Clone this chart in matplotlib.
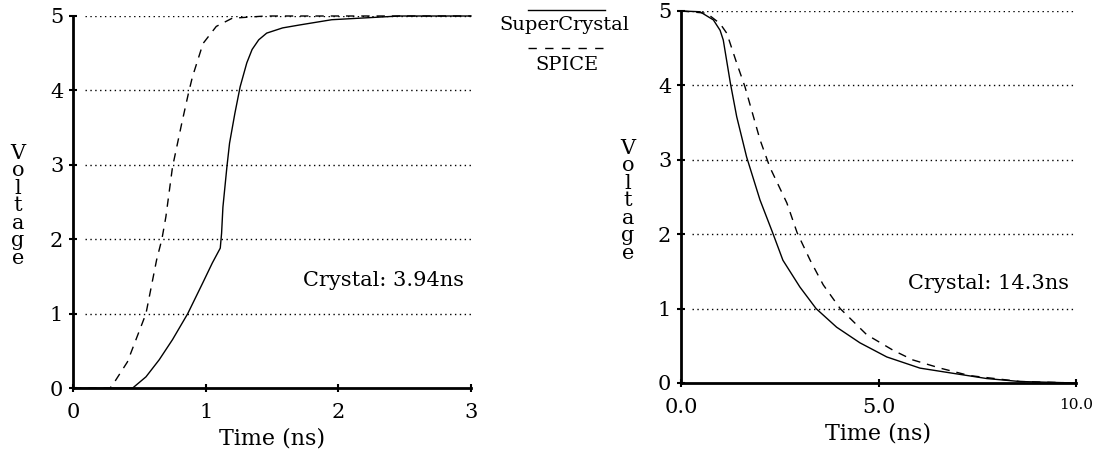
import matplotlib.pyplot as plt
from matplotlib.lines import Line2D

# rising edge (left panel), time in ns
rise_t_sc = [0.0, 0.45, 0.55, 0.65, 0.75, 0.865, 0.98, 1.05, 1.11, 1.12, 1.13, 1.16, 1.18,
             1.22, 1.26, 1.31, 1.35, 1.40, 1.46, 1.58, 1.71, 1.95, 2.46, 3.0]
rise_v_sc = [0.0, 0.0, 0.15, 0.38, 0.65, 1.0, 1.42, 1.68, 1.88, 2.08, 2.43, 2.97, 3.29,
             3.69, 4.05, 4.37, 4.55, 4.68, 4.77, 4.84, 4.88, 4.95, 5.0, 5.0]
rise_t_sp = [0.0, 0.28, 0.32, 0.41, 0.55, 0.63, 0.67, 0.70, 0.75, 0.82, 0.87, 0.90, 0.98,
             1.08, 1.2, 1.45, 3.0]
rise_v_sp = [0.0, 0.0, 0.1, 0.35, 1.0, 1.72, 2.0, 2.3, 2.97, 3.56, 3.96, 4.18, 4.63,
             4.86, 4.97, 5.0, 5.0]

# falling edge (right panel)
fall_t_sc = [0.0, 0.48, 0.82, 0.99, 1.07, 1.25, 1.41, 1.66, 2.0, 2.32, 2.58, 3.01, 3.42,
             3.94, 4.53, 5.21, 6.05, 6.89, 7.74, 8.58, 10.0]
fall_v_sc = [5.0, 4.99, 4.88, 4.74, 4.61, 4.03, 3.58, 3.04, 2.46, 2.02, 1.65, 1.29, 1.0,
             0.75, 0.54, 0.35, 0.2, 0.13, 0.06, 0.02, 0.0]
fall_t_sp = [0.0, 0.65, 0.99, 1.16, 1.41, 1.62, 2.0, 2.25, 2.68, 2.94, 3.27, 3.6, 4.03,
             4.7, 5.37, 5.87, 6.56, 7.3, 8.58, 10.0]
fall_v_sp = [5.0, 4.97, 4.83, 4.7, 4.3, 3.98, 3.27, 2.9, 2.42, 2.02, 1.65, 1.32, 1.0,
             0.65, 0.44, 0.31, 0.2, 0.1, 0.02, 0.0]

volt_ticks = [0, 1, 2, 3, 4, 5]
rise_xticks = [0, 1, 2, 3]
fall_xticks = [0.0, 5.0, 10.0]
fall_xlabels = ['0.0', '5.0', '10.0']

plt.rcParams['font.family'] = ['DejaVu Serif']

W, H = 1101, 462
fig = plt.figure(figsize=(W / 100, H / 100), dpi=100)
ax1 = fig.add_axes([73 / W, 1 - 388 / H, 398 / W, 372 / H])
ax2 = fig.add_axes([681 / W, 1 - 383 / H, 395 / W, 372 / H])

dash = (0, (6, 5))
dots = (0, (1, 2.5))


def style(ax, xmax, grid_start):
    ax.set_xlim(0, xmax)
    ax.set_ylim(0, 5)
    for s in ['top', 'right']:
        ax.spines[s].set_visible(False)
    for s in ['left', 'bottom']:
        ax.spines[s].set_linewidth(2)
    ax.set_yticks(volt_ticks)
    ax.tick_params(direction='inout', length=6, width=1.5, labelsize=15)
    ax.tick_params(axis='x', pad=8)
    ax.tick_params(axis='y', pad=4)
    ax.hlines(volt_ticks[1:], grid_start, xmax, colors='black', linewidth=1, linestyles=dots)
    ax.set_xlabel('Time (ns)', fontsize=16, labelpad=4)
    ax.set_ylabel('V\no\nl\nt\na\ng\ne', rotation=0, fontsize=15, linespacing=0.9,
                  ha='center', va='center')


style(ax1, 3, 0.09)
ax1.set_xticks(rise_xticks)
ax1.yaxis.set_label_coords(-0.138, 0.49)
ax1.plot(rise_t_sc, rise_v_sc, color='black', linewidth=1, clip_on=False)
ax1.plot(rise_t_sp, rise_v_sp, color='black', linewidth=1, linestyle=dash, clip_on=False)
ax1.text(1.73, 1.44, 'Crystal: 3.94ns', fontsize=15, ha='left', va='center')

style(ax2, 10, 0.28)
ax2.set_xticks(fall_xticks)
ax2.set_xticklabels(fall_xlabels)
ax2.get_xticklabels()[2].set_fontsize(11)
ax2.yaxis.set_label_coords(-0.134, 0.49)
ax2.plot(fall_t_sc, fall_v_sc, color='black', linewidth=1, clip_on=False)
ax2.plot(fall_t_sp, fall_v_sp, color='black', linewidth=1, linestyle=dash, clip_on=False)
ax2.text(5.75, 1.34, 'Crystal: 14.3ns', fontsize=15, ha='left', va='center')

# legend in the gap between the panels
fig.add_artist(Line2D([528 / W, 605 / W], [1 - 10 / H, 1 - 10 / H], color='black', linewidth=1))
fig.text(564 / W, 1 - 25 / H, 'SuperCrystal', fontsize=14, ha='center', va='center')
fig.add_artist(Line2D([528 / W, 605 / W], [1 - 48 / H, 1 - 48 / H], color='black',
                      linewidth=1, linestyle=(0, (6, 6))))
fig.text(567 / W, 1 - 65 / H, 'SPICE', fontsize=14, ha='center', va='center')

fig.savefig('out.png', dpi=100)
